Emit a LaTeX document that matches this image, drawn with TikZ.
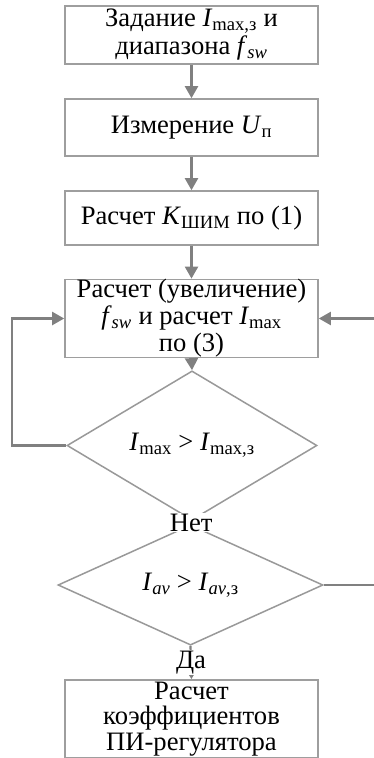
\documentclass[tikz,border=0pt]{standalone}
\usepackage{fontspec}
\setmainfont{Liberation Serif}
\usetikzlibrary{shapes.geometric,arrows.meta}
\begin{document}
\begin{tikzpicture}[x=1pt,y=-1pt,
  box/.style={draw=black!38, line width=1.6pt, minimum width=253pt, inner sep=0pt,
    align=center, font=\fontsize{26.6}{27}\selectfont, fill=white},
  dec/.style={diamond, draw=black!40, line width=1.5pt, inner sep=0pt,
    font=\fontsize{26.6}{27}\selectfont, fill=white},
  arr/.style={draw=black!50, line width=2.2pt, -{Triangle[length=12pt,width=13pt]}},
  lab/.style={fill=white, inner sep=1pt, font=\fontsize{26.6}{27}\selectfont}
]
\useasboundingbox (0,0) rectangle (373,758);

\node[box, minimum height=58pt, font=\fontsize{26.6}{28}\selectfont] (b1) at (191.5,35)
  {Задание \textit{I}\textsubscript{max,з} и\\диапазона \textit{f}\textsubscript{\textit{sw}}};
\node[box, minimum height=57pt] (b2) at (191.5,127.5)
  {Измерение \textit{U}\textsubscript{п}};
\node[box, minimum height=54pt] (b3) at (191.5,218)
  {Расчет \textit{K}\textsubscript{ШИМ} по (1)};
\node[box, minimum height=75pt] (b4) at (191.5,318.5)
  {Расчет (увеличение)\\\textit{f}\textsubscript{\textit{sw}} и расчет \textit{I}\textsubscript{max}\\по (3)};
\node[dec, minimum width=250pt, minimum height=105pt] (d1) at (192,445.5)
  {\textit{I}\textsubscript{max} > \textit{I}\textsubscript{max,з}};
\node[dec, minimum width=265pt, minimum height=104pt] (d2) at (190.5,585)
  {\textit{I}\textsubscript{\textit{av}} > \textit{I}\textsubscript{\textit{av},з}};
\node[box, minimum height=78pt, anchor=north, font=\fontsize{26.6}{25.5}\selectfont] (b5) at (191.5,679)
  {Расчет\\коэффициентов\\ПИ-регулятора};

\draw[arr] (b1.south) -- (b2.north);
\draw[arr] (b2.south) -- (b3.north);
\draw[arr] (b3.south) -- (b4.north);
\draw[arr] (b4.south) -- (d1.north);
\draw[arr, -{Triangle[length=6pt,width=7pt]}] (d1.south) -- (d2.north)
  node[lab, midway] (no) {Нет};
\draw[arr, -{Triangle[length=6pt,width=7pt]}] (d2.south) -- (b5.north)
  node[lab, midway] (yes) {Да};
\draw[arr] (d1.west) -- ++(-54,0) |- (b4.west);
\coordinate (rc) at (395,585);
\draw[arr] (d2.east) -- (rc) |- (b4.east);
\end{tikzpicture}
\end{document}
